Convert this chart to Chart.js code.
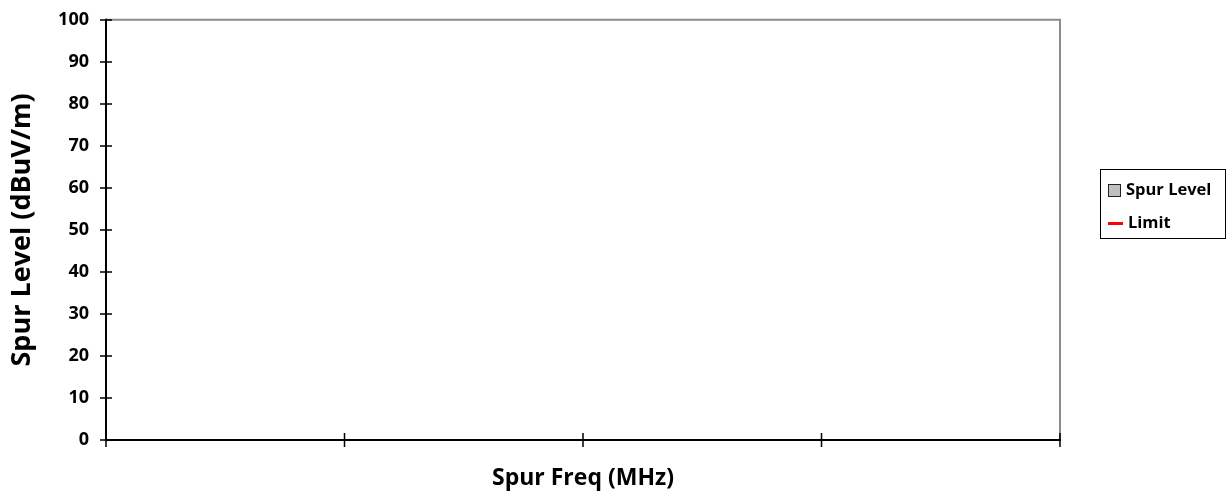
<!DOCTYPE html>
<html><head><meta charset="utf-8">
<script src="https://cdn.jsdelivr.net/npm/chart.js@4.4.1/dist/chart.umd.min.js"></script>
<style>
html,body{margin:0;padding:0;background:#fff;}
#wrap{position:relative;width:1232px;height:498px;}
#c{position:absolute;left:0;top:0;}
#legend{position:absolute;left:1100px;top:169px;width:124px;height:68px;border:1.5px solid #000;font:bold 16.5px "Open Sans",sans-serif;color:#000;}
.li{position:absolute;left:7px;height:20px;line-height:20px;white-space:nowrap;}
.sw{display:inline-block;vertical-align:middle;margin-right:5px;}
</style></head><body>
<div id="wrap"><canvas id="c" width="1232" height="498"></canvas><div id="legend"></div></div>
<script>
const categories = ['', '', '', ''];
const spurLevel = [null, null, null, null];
const limit = [null, null, null, null];
const yTicks = [0,10,20,30,40,50,60,70,80,90,100];
const seriesNames = ['Spur Level', 'Limit'];

const FONT = '"Open Sans", sans-serif';

const axisPlugin = {
  id: 'axisPlugin',
  afterDraw(chart) {
    const ctx = chart.ctx, a = chart.chartArea, x = chart.scales.x, y = chart.scales.y;
    ctx.save();
    ctx.strokeStyle = '#8c8c8c'; ctx.lineWidth = 2;
    ctx.beginPath();
    ctx.moveTo(a.left, a.top); ctx.lineTo(a.right, a.top); ctx.lineTo(a.right, a.bottom);
    ctx.stroke();
    ctx.strokeStyle = '#000'; ctx.lineWidth = 2;
    ctx.beginPath();
    ctx.moveTo(a.left, a.top - 1); ctx.lineTo(a.left, a.bottom);
    ctx.moveTo(a.left, a.bottom); ctx.lineTo(a.right + 1, a.bottom);
    ctx.stroke();
    ctx.lineWidth = 1.5;
    ctx.beginPath();
    yTicks.forEach(v => { const py = Math.round(y.getPixelForValue(v)); ctx.moveTo(a.left - 6, py); ctx.lineTo(a.left + 6, py); });
    const step = x.getPixelForTick(1) - x.getPixelForTick(0);
    for (let i = 0; i <= categories.length; i++) {
      const px = x.getPixelForTick(0) + (i - 0.5) * step;
      ctx.moveTo(px, a.bottom - 7); ctx.lineTo(px, a.bottom + 7);
    }
    ctx.stroke();
    ctx.restore();
  }
};

new Chart(document.getElementById('c'), {
  data: {
    labels: categories,
    datasets: [
      { type: 'bar', label: seriesNames[0], data: spurLevel, backgroundColor: '#c0c0c0', borderColor: '#333', borderWidth: 1 },
      { type: 'line', label: seriesNames[1], data: limit, borderColor: '#ff0000', borderWidth: 2, pointRadius: 0 }
    ]
  },
  options: {
    responsive: false, animation: false,
    layout: { padding: { left: 0, top: 7, right: 172, bottom: 0 } },
    plugins: { legend: { display: false }, tooltip: { enabled: false } },
    scales: {
      x: {
        type: 'category', offset: true,
        grid: { display: false },
        border: { display: false },
        ticks: { display: false },
        title: { display: true, text: 'Spur Freq (MHz)', color: '#000', font: { family: FONT, size: 23, weight: 'bold' }, padding: { top: 0, bottom: 6 } },
        afterFit(s) { s.height = 58; }
      },
      y: {
        min: 0, max: 100,
        grid: { display: false },
        border: { display: false },
        afterBuildTicks(s) { s.ticks = yTicks.map(v => ({ value: v })); },
        ticks: { color: '#000', padding: 9, font: { family: FONT, size: 18, weight: 'bold' } },
        title: { display: true, text: 'Spur Level (dBuV/m)', color: '#000', font: { family: FONT, size: 27, weight: 'bold' }, padding: { top: 6, bottom: 0 } },
        afterFit(s) { s.width = 106; }
      }
    }
  },
  plugins: [axisPlugin]
});

const lg = document.getElementById('legend');
lg.innerHTML =
  '<div class="li" style="top:9px"><span class="sw" style="width:11px;height:11px;background:#c0c0c0;border:1.5px solid #222;"></span>' + seriesNames[0] + '</div>' +
  '<div class="li" style="top:42px"><span class="sw" style="width:15px;height:3px;background:#ff0000;"></span>' + seriesNames[1] + '</div>';
</script>
</body></html>
